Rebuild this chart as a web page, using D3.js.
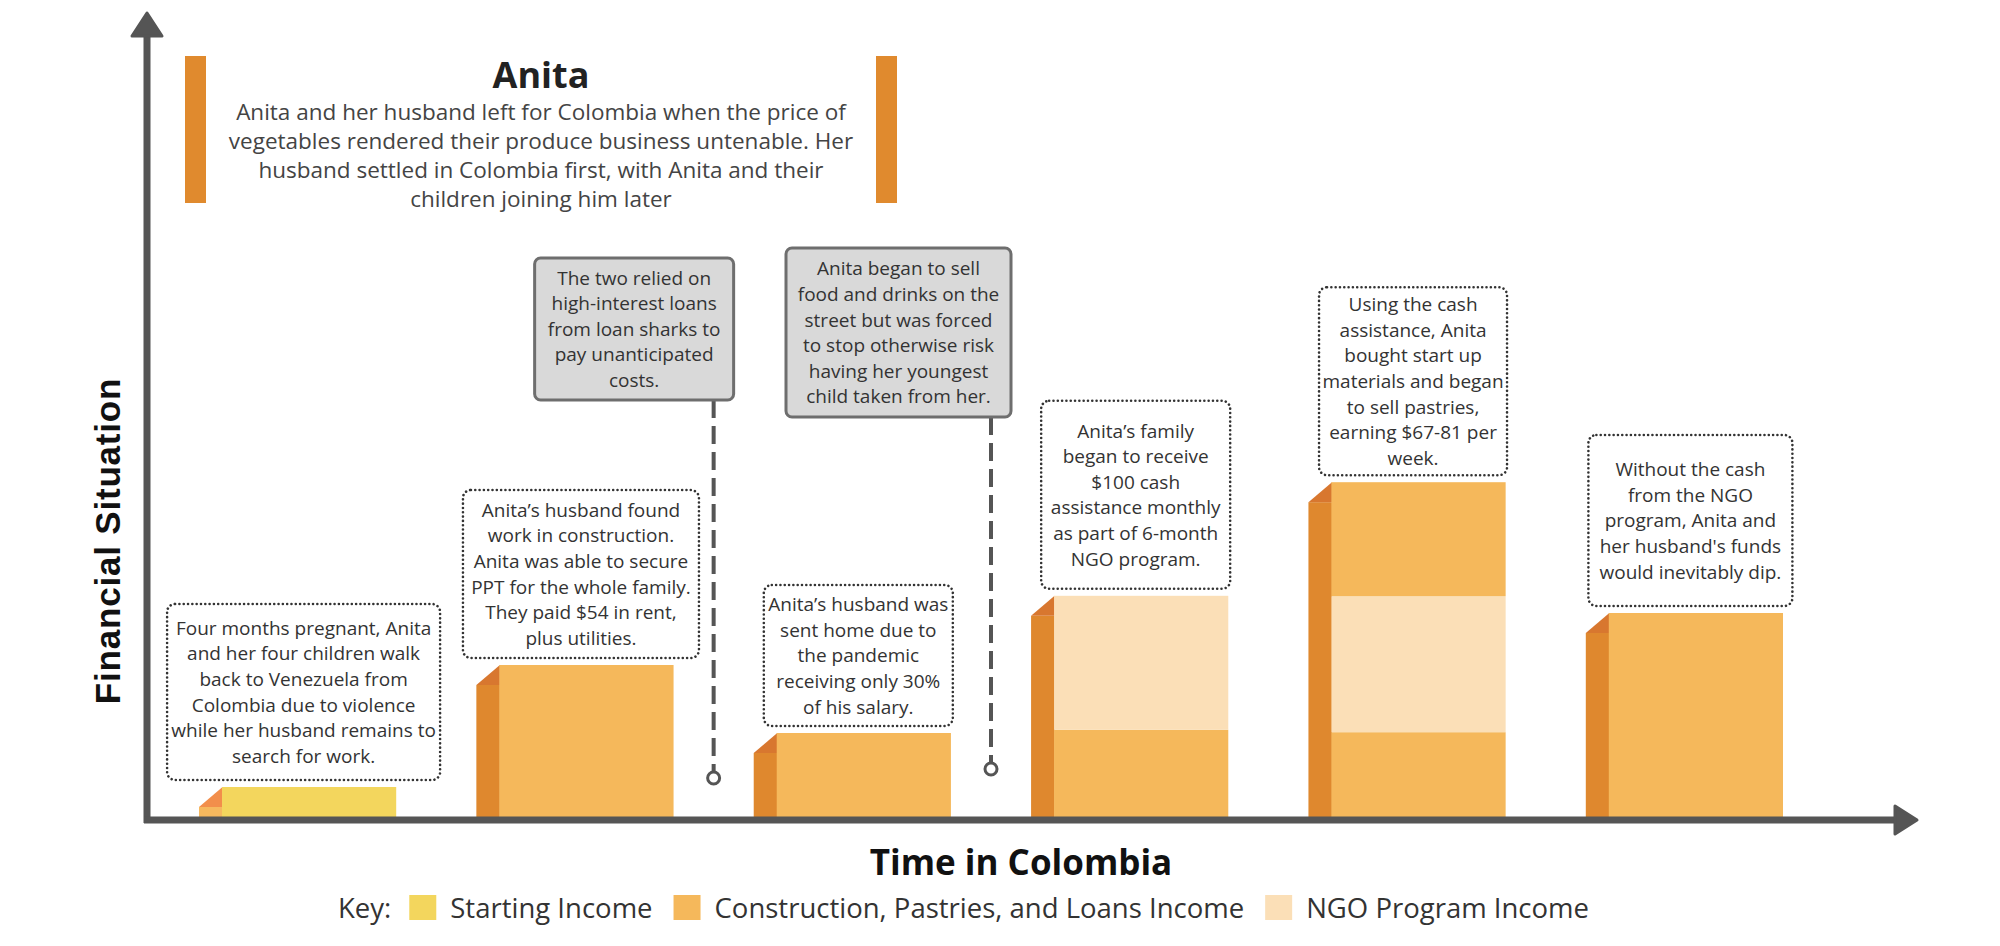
<!DOCTYPE html>
<html>
  <head>
    <meta charset="utf-8" />
    <style>
      body {
        margin: 0;
        background: #fff;
      }
      svg {
        display: block;
      }
      .note {
        font-family: "Open Sans", "Noto Sans", sans-serif;
        font-size: 19px;
        fill: #333;
      }
    </style>
  </head>

  <body>
    <svg width="2000" height="946"></svg>
  </body>

  <script src="https://d3js.org/d3.v7.min.js"></script>

  <script>
    // stages along the time axis and the income stacked in each one
    let stages = [
      "Arrival",
      "Construction work",
      "Pandemic",
      "NGO cash assistance",
      "Pastry business",
      "After NGO program",
    ];
    let startingIncome = [3.75, 0, 0, 0, 0, 0];
    let workIncome = [0, 19, 10.5, 10.9, 10.6, 25.5];
    let ngoIncome = [0, 0, 0, 16.75, 17, 0];
    let pastryIncome = [0, 0, 0, 0, 14.25, 0];

    let legendLabels = [
      "Starting Income",
      "Construction, Pastries, and Loans Income",
      "NGO Program Income",
    ];

    let titleText = "Anita";
    let introLines = [
      "Anita and her husband left for Colombia when the price of",
      "vegetables rendered their produce business untenable. Her",
      "husband settled in Colombia first, with Anita and their",
      "children joining him later",
    ];

    // one note above every bar
    let barNotes = [
      [
        "Four months pregnant, Anita",
        "and her four children walk",
        "back to Venezuela from",
        "Colombia due to violence",
        "while her husband remains to",
        "search for work.",
      ],
      [
        "Anita\u2019s husband found",
        "work in construction.",
        "Anita was able to secure",
        "PPT for the whole family.",
        "They paid $54 in rent,",
        "plus utilities.",
      ],
      [
        "Anita\u2019s husband was",
        "sent home due to",
        "the pandemic",
        "receiving only 30%",
        "of his salary.",
      ],
      [
        "Anita\u2019s family",
        "began to receive",
        "$100 cash",
        "assistance monthly",
        "as part of 6-month",
        "NGO program.",
      ],
      [
        "Using the cash",
        "assistance, Anita",
        "bought start up",
        "materials and began",
        "to sell pastries,",
        "earning $67-81 per",
        "week.",
      ],
      [
        "Without the cash",
        "from the NGO",
        "program, Anita and",
        "her husband's funds",
        "would inevitably dip.",
      ],
    ];

    // events that happen between two bars
    let eventAfter = [1, 2];
    let eventNotes = [
      [
        "The two relied on",
        "high-interest loans",
        "from loan sharks to",
        "pay unanticipated",
        "costs.",
      ],
      [
        "Anita began to sell",
        "food and drinks on the",
        "street but was forced",
        "to stop otherwise risk",
        "having her youngest",
        "child taken from her.",
      ],
    ];

    // ---- layout ----
    let svg = d3.select("svg");
    let axisColor = "#555555";
    let baseY = 817;

    let noteW = [273, 236, 189, 189, 188, 204];
    let noteH = [176, 168, 141, 188, 188, 171];
    let eventBox = [
      { w: 199, h: 142, top: 258, dotY: 778 },
      { w: 225, h: 169, top: 248, dotY: 769 },
    ];

    let colors = {
      starting: "#F3D65D",
      work: "#F5B85B",
      ngo: "#FBDFB7",
      pastry: "#F5B85B",
    };
    let sideColors = {
      starting: { side: "#F6B85E", top: "#F28E4B" },
      work: { side: "#DF882E", top: "#D8772F" },
    };

    let x = d3
      .scaleBand()
      .domain(stages)
      .range([199, 1783])
      .paddingInner(0.289)
      .paddingOuter(0);

    let y = d3.scaleLinear().domain([0, 100]).range([baseY, 17]);

    let rows = stages.map((s, i) => ({
      stage: s,
      starting: startingIncome[i],
      work: workIncome[i],
      ngo: ngoIncome[i],
      pastry: pastryIncome[i],
    }));

    let keys = ["starting", "work", "ngo", "pastry"];
    let series = d3.stack().keys(keys)(rows);

    let bw = x.bandwidth();
    let sideW = Math.round(bw * 0.117);
    let bevel = 20;

    // ---- title block ----
    let title = svg.append("g");
    title
      .selectAll("rect")
      .data([185, 876])
      .join("rect")
      .attr("x", (d) => d)
      .attr("y", 56)
      .attr("width", 21)
      .attr("height", 147)
      .attr("fill", "#E08A2E");

    title
      .append("text")
      .attr("x", 541)
      .attr("y", 88)
      .attr("text-anchor", "middle")
      .style("font-family", "'Open Sans', sans-serif")
      .style("font-weight", "700")
      .style("font-size", "36px")
      .style("fill", "#222")
      .text(titleText);

    title
      .selectAll(".intro")
      .data(introLines)
      .join("text")
      .attr("class", "intro")
      .attr("x", 541)
      .attr("y", (d, i) => 120 + i * 29)
      .attr("text-anchor", "middle")
      .style("font-family", "'Open Sans', sans-serif")
      .style("font-size", "22.5px")
      .style("fill", "#444")
      .text((d) => d);

    // ---- bars ----
    let bars = svg.append("g");

    // side column + bevel for every bar
    rows.forEach((r, i) => {
      let total = keys.reduce((a, k) => a + r[k], 0);
      let bottomKey = r.starting > 0 ? "starting" : "work";
      let x0 = x(r.stage);
      let top = y(total);
      bars
        .append("rect")
        .attr("x", x0)
        .attr("y", top + bevel)
        .attr("width", sideW + 0.5)
        .attr("height", baseY - top - bevel)
        .attr("fill", sideColors[bottomKey].side);
      bars
        .append("path")
        .attr(
          "d",
          `M${x0},${top + bevel}L${x0 + sideW + 0.5},${top}L${x0 + sideW + 0.5},${top + bevel}Z`
        )
        .attr("fill", sideColors[bottomKey].top);
    });

    bars
      .selectAll(".layer")
      .data(series)
      .join("g")
      .attr("class", "layer")
      .attr("fill", (d) => colors[d.key])
      .selectAll("rect")
      .data((d) => d.filter((p) => p[1] > p[0]))
      .join("rect")
      .attr("x", (d) => x(d.data.stage) + sideW)
      .attr("y", (d) => y(d[1]))
      .attr("width", bw - sideW)
      .attr("height", (d) => y(d[0]) - y(d[1]));

    // ---- axes ----
    let axes = svg.append("g");
    axes
      .append("line")
      .attr("x1", 147)
      .attr("y1", 823)
      .attr("x2", 147)
      .attr("y2", 30)
      .attr("stroke", axisColor)
      .attr("stroke-width", 7);
    axes
      .append("line")
      .attr("x1", 144)
      .attr("y1", 820)
      .attr("x2", 1900)
      .attr("y2", 820)
      .attr("stroke", axisColor)
      .attr("stroke-width", 7);
    axes
      .append("path")
      .attr("d", "M147,13L162,36L132,36Z")
      .attr("fill", axisColor)
      .attr("stroke", axisColor)
      .attr("stroke-width", 3)
      .attr("stroke-linejoin", "round");
    axes
      .append("path")
      .attr("d", "M1917,820L1895,806L1895,834Z")
      .attr("fill", axisColor)
      .attr("stroke", axisColor)
      .attr("stroke-width", 3)
      .attr("stroke-linejoin", "round");

    svg
      .append("text")
      .attr("transform", "translate(120,541) rotate(-90)")
      .attr("text-anchor", "middle")
      .style("font-family", "'Liberation Sans', Arial, sans-serif")
      .style("font-weight", "700")
      .style("font-size", "35px")
      .style("letter-spacing", "0.8px")
      .style("fill", "#111")
      .text("Financial Situation");

    svg
      .append("text")
      .attr("x", 1021)
      .attr("y", 875)
      .attr("text-anchor", "middle")
      .style("font-family", "'Open Sans', sans-serif")
      .style("font-weight", "700")
      .style("font-size", "35px")
      .style("fill", "#111")
      .text("Time in Colombia");

    // ---- notes above bars ----
    let lineH = 25.6;
    let notes = svg
      .append("g")
      .selectAll(".bar-note")
      .data(rows)
      .join("g")
      .attr("class", "bar-note")
      .attr("transform", (d, i) => {
        let total = keys.reduce((a, k) => a + d[k], 0);
        let cx = x(d.stage) + bw / 2 + 6;
        let bottom = y(total) - 7;
        return `translate(${cx},${bottom - noteH[i]})`;
      });

    notes
      .append("rect")
      .attr("x", (d, i) => -noteW[i] / 2)
      .attr("y", 0)
      .attr("width", (d, i) => noteW[i])
      .attr("height", (d, i) => noteH[i])
      .attr("rx", 8)
      .attr("fill", "none")
      .attr("stroke", "#333")
      .attr("stroke-width", 2.6)
      .attr("stroke-linecap", "round")
      .attr("stroke-dasharray", "0.01 4.3");

    notes.each(function (d, i) {
      let lines = barNotes[i];
      d3.select(this)
        .selectAll("text")
        .data(lines)
        .join("text")
        .attr("class", "note")
        .attr("x", 0)
        .attr(
          "y",
          (l, j) => noteH[i] / 2 + (j - (lines.length - 1) / 2) * lineH
        )
        .attr("dy", "0.36em")
        .attr("text-anchor", "middle")
        .text((l) => l);
    });

    // ---- event callouts ----
    let step = x.step();
    let events = svg
      .append("g")
      .selectAll(".event")
      .data(eventAfter)
      .join("g")
      .attr("class", "event");

    events.each(function (after, i) {
      let g = d3.select(this);
      let px = x(stages[after]) + bw + (step - bw) / 2;
      let box = eventBox[i];
      let left = px + 20 - box.w;
      g.append("line")
        .attr("x1", px)
        .attr("x2", px)
        .attr("y1", box.top + box.h)
        .attr("y2", box.dotY - 7)
        .attr("stroke", axisColor)
        .attr("stroke-width", 4)
        .attr("stroke-dasharray", "18 8");
      g.append("circle")
        .attr("cx", px)
        .attr("cy", box.dotY)
        .attr("r", 6)
        .attr("fill", "#fff")
        .attr("stroke", axisColor)
        .attr("stroke-width", 3);
      g.append("rect")
        .attr("x", left)
        .attr("y", box.top)
        .attr("width", box.w)
        .attr("height", box.h)
        .attr("rx", 6)
        .attr("fill", "#D9D9D9")
        .attr("stroke", "#6E6E6E")
        .attr("stroke-width", 3);
      let lines = eventNotes[i];
      g.selectAll("text")
        .data(lines)
        .join("text")
        .attr("class", "note")
        .attr("x", left + box.w / 2)
        .attr(
          "y",
          (l, j) => box.top + box.h / 2 + (j - (lines.length - 1) / 2) * lineH
        )
        .attr("dy", "0.36em")
        .attr("text-anchor", "middle")
        .text((l) => l);
    });

    // ---- key ----
    let legend = svg.append("g").attr("transform", "translate(338,918)");
    let keyFont = {
      "font-family": "'Open Sans', sans-serif",
      "font-size": "27.5px",
      fill: "#333",
    };
    let keyText = legend.append("text").text("Key:");
    Object.entries(keyFont).forEach(([k, v]) => keyText.style(k, v));
    let cursor = keyText.node().getComputedTextLength() + 18;
    let swatchColors = [colors.starting, colors.work, colors.ngo];
    legendLabels.forEach((label, i) => {
      legend
        .append("rect")
        .attr("x", cursor)
        .attr("y", -23)
        .attr("width", 27)
        .attr("height", 25)
        .attr("fill", swatchColors[i]);
      cursor += 27 + 14;
      let t = legend.append("text").attr("x", cursor).text(label);
      Object.entries(keyFont).forEach(([k, v]) => t.style(k, v));
      cursor += t.node().getComputedTextLength() + 21;
    });
  </script>
</html>
